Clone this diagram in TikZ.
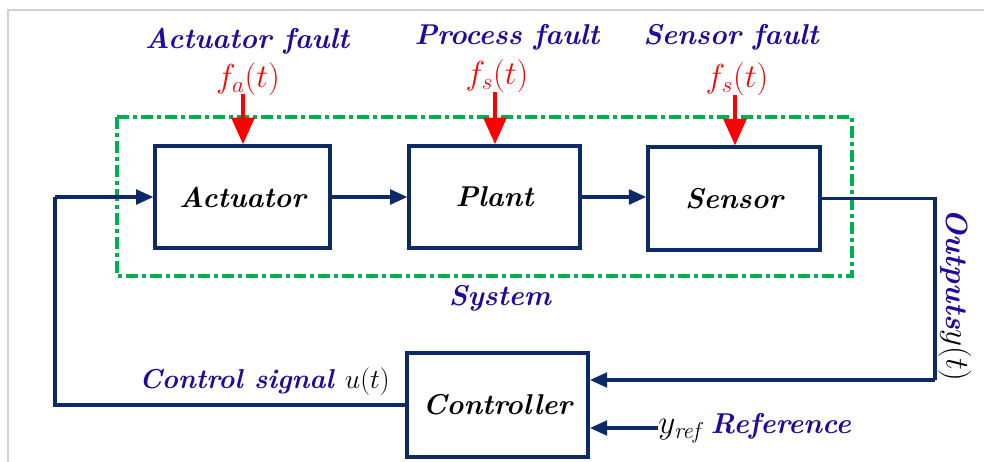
\documentclass[tikz,border=0pt]{standalone}
\usetikzlibrary{arrows.meta}
\definecolor{navy}{HTML}{0D2A66}
\definecolor{lblue}{HTML}{1E0A9E}
\definecolor{gsys}{HTML}{00B050}
\definecolor{frame}{HTML}{D0D0D0}
\begin{document}
\begin{tikzpicture}[x=0.75pt,y=-0.75pt,
  blk/.style={draw=navy, line width=2.6pt, fill=white, rectangle, inner sep=0pt,
              font=\fontsize{21.5}{24}\selectfont\bfseries\itshape},
  conn/.style={draw=navy, line width=2.6pt, -{Triangle[length=13pt,width=11pt]}},
  line/.style={draw=navy, line width=2.6pt},
  fault/.style={draw=red, line width=3pt, -{Triangle[length=20pt,width=17pt]}},
  lbl/.style={text=lblue, font=\fontsize{21.5}{24}\selectfont\bfseries\itshape, inner sep=0pt},
  flbl/.style={text=red, font=\fontsize{24}{28}\selectfont, inner sep=0pt},
  sys/.style={draw=gsys, line width=3pt, dash pattern=on 9pt off 3pt on 3pt off 3pt}
]
\useasboundingbox (0,0) rectangle (984,461);
% outer frame
\draw[frame, line width=1.5pt] (8,470) -- (8,10) -- (995,10);
% system boundary
\draw[sys] (117,117) rectangle (852,276);
% blocks
\node[blk, minimum width=131pt, minimum height=76.5pt] (act) at (242.5,197) {Actuator};
\node[blk, minimum width=128pt, minimum height=76.5pt] (plant) at (494.5,197) {Plant};
\node[blk, minimum width=129pt, minimum height=77pt] (sens) at (734,198.5) {Sensor};
\node[blk, minimum width=136pt, minimum height=78pt] (ctrl) at (497.5,405) {Controller};
% forward connectors
\draw[conn] (act.east) -- (plant.west);
\draw[conn] (plant.east) -- (sens.west |- plant.east);
% feedback
\coordinate (fbR) at (935,198.5);
\coordinate (fbB) at (935,380);
\draw[line] (sens.east) -- (fbR) -- (fbB);
\draw[conn] (fbB) -- (ctrl.east |- fbB);
% control signal
\coordinate (csL) at (55,405);
\coordinate (csT) at (55,197);
\draw[line] (ctrl.west) -- (csL) -- (csT);
\draw[conn] (csT) -- (act.west);
% reference
\node[anchor=west, inner sep=0pt] (yref) at (658,428) {\fontsize{24}{28}\selectfont$y_{\mathit{ref}}$\,\textcolor{lblue}{\fontsize{21.5}{24}\selectfont\bfseries\itshape Reference}};
\draw[conn] (yref.west) -- (ctrl.east |- yref.west);
% labels
\node[lbl] (hA) at (247,41) {Actuator fault};
\node[lbl] (hP) at (507,37) {Process\ fault};
\node[lbl] (hS) at (731,37) {Sensor fault};
\node[flbl] (fa) at (248,79) {$f_a(t)$};
\node[flbl] (fp) at (497,76) {$f_s(t)$};
\node[flbl] (fs) at (737,79) {$f_s(t)$};
\coordinate (faS) at (243,94);
\coordinate (fpS) at (495,92);
\coordinate (fsS) at (735,95);
\draw[fault] (faS) -- (act.north -| faS);
\draw[fault] (fpS) -- (plant.north -| fpS);
\draw[fault] (fsS) -- (sens.north -| fsS);
\node[lbl] (sysl) at (500,298) {System};
\node[lbl, anchor=east, font=\fontsize{20.5}{24}\selectfont\bfseries\itshape] (csl) at (390,382) {Control signal \textcolor{black}{\mdseries\upshape\fontsize{21}{24}\selectfont$u(t)$}};
\node[lbl, rotate=-90, font=\fontsize{23}{26}\selectfont\bfseries\itshape] (outl) at (955,295) {Outputs\textcolor{black}{\mdseries\upshape$y(t)$}};
\end{tikzpicture}
\end{document}
